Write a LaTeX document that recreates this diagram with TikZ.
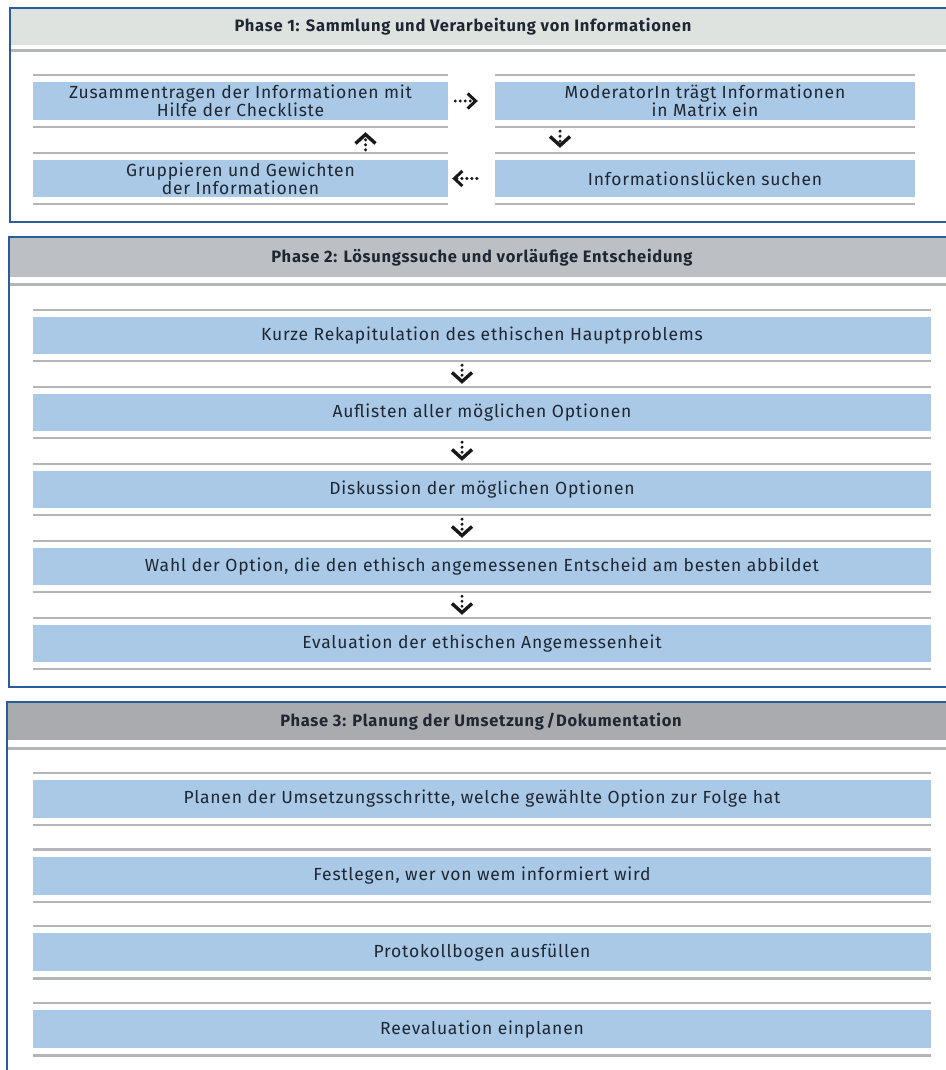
\documentclass[tikz,border=0pt]{standalone}
\usepackage{fontspec}
\setmainfont{Fira Sans}[LetterSpace=4.5]
\usetikzlibrary{arrows.meta}

\definecolor{rahmen}{HTML}{2B5C9C}
\definecolor{kopfA}{HTML}{DFE3E0}
\definecolor{kopfB}{HTML}{BCC0C4}
\definecolor{kopfC}{HTML}{A9ABAE}
\definecolor{feld}{HTML}{A9C9E6}
\definecolor{linie}{HTML}{B3B5B8}
\definecolor{schrift}{HTML}{1E2733}

\tikzset{
  schritt/.style={fill=feld, inner sep=0pt, text=schrift, align=center,
    font=\fontsize{17.5}{16.5}\selectfont},
  kopf/.style={text=schrift, font=\fontsize{16.5}{16}\selectfont\bfseries},
  pfeil/.style={draw=black!90, line width=3.4pt, dash pattern=on 0pt off 5pt, line cap=round,
    -{Straight Barb[length=8pt,width=15pt,line width=3pt]}},
  pfeilv/.style={pfeil, -{Straight Barb[length=9pt,width=20pt,line width=3.4pt]}},
  trenner/.style={draw=linie, line width=3pt}
}

\begin{document}
\begin{tikzpicture}[x=1pt, y=-1pt]
  \useasboundingbox (0,0) rectangle (945,1070);

  % Phase 1
  \fill[kopfA] (10,8) rectangle (960,45);
  \draw[trenner] (10,51) -- (960,51);
  \draw[rahmen, line width=2pt] (10,8) rectangle (960,222);
  \node[kopf] (kopf1) at (463,27) {Phase 1: Sammlung und Verarbeitung von Informationen};
  \node[schritt, minimum width=415pt, minimum height=38pt] (zus) at (240.5,101)
    {Zusammentragen der Informationen mit\\Hilfe der Checkliste};
  \node[schritt, minimum width=420pt, minimum height=38pt] (mod) at (705,101)
    {ModeratorIn trägt Informationen\\in Matrix ein};
  \node[schritt, minimum width=415pt, minimum height=37pt] (grup) at (240.5,178.5)
    {Gruppieren und Gewichten\\der Informationen};
  \node[schritt, minimum width=420pt, minimum height=37pt] (luck) at (705,178.5)
    {Informationslücken suchen};
  \draw[pfeil, shorten <=7pt, shorten >=17pt] (zus.east) -- (mod.west);
  \draw[pfeilv, shorten <=11pt, shorten >=12pt] ([xshift=-145pt]mod.south) -- ([xshift=-145pt]luck.north);
  \draw[pfeil, shorten <=18pt, shorten >=4pt] (luck.west) -- (grup.east);
  \draw[pfeilv, shorten <=10pt, shorten >=12pt] ([xshift=125pt]grup.north) -- ([xshift=125pt]zus.south);

  % Phase 2
  \fill[kopfB] (9,237) rectangle (960,277);
  \draw[trenner] (9,284) -- (960,284);
  \draw[rahmen, line width=2pt] (9,237) rectangle (960,687);
  \node[kopf] (kopf2) at (482,258) {Phase 2: Lösungssuche und vorläufige Entscheidung};
  \node[schritt, minimum width=898pt, minimum height=37pt] (reka) at (482,335.5)
    {Kurze Rekapitulation des ethischen Hauptproblems};
  \node[schritt, minimum width=898pt, minimum height=37pt] (aufl) at (482,412.5)
    {Auflisten aller möglichen Optionen};
  \node[schritt, minimum width=898pt, minimum height=37pt] (disk) at (482,489.5)
    {Diskussion der möglichen Optionen};
  \node[schritt, minimum width=898pt, minimum height=37pt] (wahl) at (482,566.5)
    {Wahl der Option, die den ethisch angemessenen Entscheid am besten abbildet};
  \node[schritt, minimum width=898pt, minimum height=37pt] (eval) at (482,643.5)
    {Evaluation der ethischen Angemessenheit};
  \foreach \a/\b in {reka/aufl, aufl/disk, disk/wahl, wahl/eval}
    \draw[pfeilv, shorten <=11pt, shorten >=10pt] ([xshift=-20pt]\a.south) -- ([xshift=-20pt]\b.north);

  % Phase 3
  \fill[kopfC] (7,702) rectangle (960,740);
  \draw[trenner] (7,748) -- (960,748);
  \draw[rahmen, line width=2pt] (7,702) rectangle (960,1100);
  \node[kopf] (kopf3) at (481,722) {Phase 3: Planung der Umsetzung\,/Dokumentation};
  \node[schritt, minimum width=898pt, minimum height=38pt] (plan) at (482,799)
    {Planen der Umsetzungsschritte, welche gewählte Option zur Folge hat};
  \node[schritt, minimum width=898pt, minimum height=38pt] (fest) at (482,875.7)
    {Festlegen, wer von wem informiert wird};
  \node[schritt, minimum width=898pt, minimum height=38pt] (prot) at (482,952.4)
    {Protokollbogen ausfüllen};
  \node[schritt, minimum width=898pt, minimum height=38pt] (reev) at (482,1029.1)
    {Reevaluation einplanen};

  % graue Linien ober- und unterhalb der Felder
  \foreach \n in {zus, mod, grup, luck, reka, aufl, disk, wahl, eval, plan, fest, prot, reev} {
    \draw[trenner, line width=2.5pt] ([yshift=7pt]\n.north west) -- ([yshift=7pt]\n.north east);
    \draw[trenner, line width=2.5pt] ([yshift=-7pt]\n.south west) -- ([yshift=-7pt]\n.south east);
  }
\end{tikzpicture}
\end{document}
